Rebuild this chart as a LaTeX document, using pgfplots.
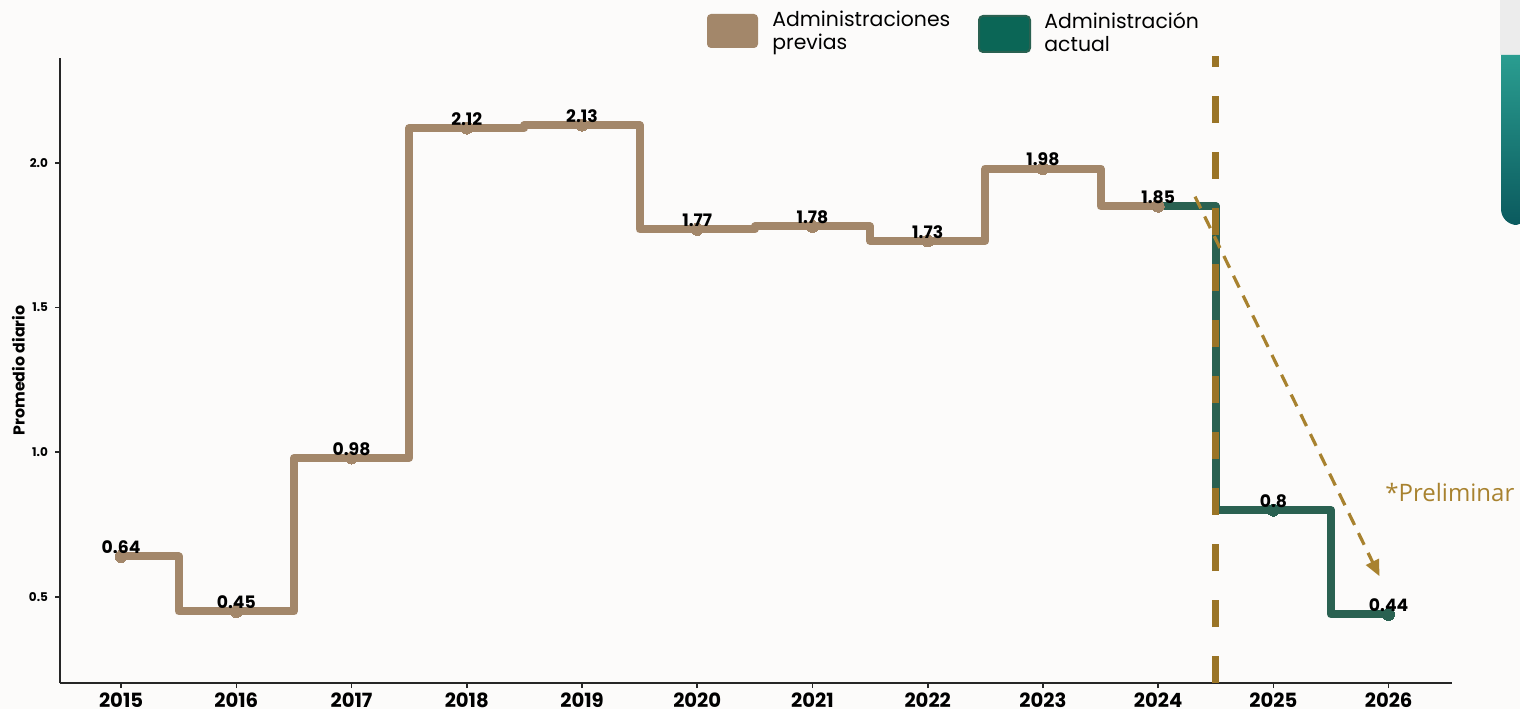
\documentclass[border=0pt]{standalone}
\usepackage{pgfplots}
\pgfplotsset{compat=1.18}
\usepackage{fontspec}
\setmainfont{Poppins}
\newfontfamily\opensans{Open Sans}
\usetikzlibrary{arrows.meta}
\definecolor{brownc}{HTML}{A3876A}
\definecolor{greenc}{HTML}{2A6151}
\definecolor{greenleg}{HTML}{0B6656}
\definecolor{gold}{HTML}{9A7426}
\definecolor{goldarrow}{HTML}{A8822F}
\definecolor{tealA}{HTML}{2A9D90}
\definecolor{tealB}{HTML}{0B5A5E}
\definecolor{bgc}{HTML}{FCFBFA}
\begin{document}
\begin{tikzpicture}
\begin{scope}[x=0.5pt,y=0.5pt]
\path[use as bounding box, fill=bgc] (0,0) rectangle (1520,709);
% UI decoration at the right edge
\fill[gray!15] (1500,654) rectangle (1520,709);
\shade[top color=tealA, bottom color=tealB] (1520,654) -- (1501,654) [rounded corners=8pt] -- (1501,484) -- (1530,484) [sharp corners] -- (1530,654) -- cycle;
% legend
\fill[brownc, rounded corners=2pt] (707,661) rectangle (758,695);
\node[anchor=north west, align=left, inner sep=0pt, font=\fontsize{10.2}{11.5}\selectfont] at (772,698) {Administraciones\\previas};
\fill[greenleg, draw=greenc, line width=1pt, rounded corners=2pt] (979,657) rectangle (1030,693);
\node[anchor=north west, align=left, inner sep=0pt, font=\fontsize{10.2}{11.5}\selectfont] at (1044,697) {Administración\\actual};
\node[anchor=west, inner sep=0pt, text=goldarrow, font=\opensans\fontsize{12}{12}\selectfont] at (1385,217) {*Preliminar};
\end{scope}
\begin{axis}[
  at={(30pt,13pt)}, anchor=south west,
  width=696pt, height=312.5pt, scale only axis,
  xmin=2014.47, xmax=2026.55, ymin=0.203, ymax=2.362,
  axis x line*=bottom, axis y line*=left,
  axis line style={line width=1pt, color=black!85, -},
  tick style={line width=0.8pt, color=black!85},
  tick align=outside, major tick length=2.5pt,
  xtick={2015,2016,2017,2018,2019,2020,2021,2022,2023,2024,2025,2026},
  xticklabels={2015,2016,2017,2018,2019,2020,2021,2022,2023,2024,2025,2026},
  xticklabel style={font=\bfseries\fontsize{9.8}{9.8}\selectfont, yshift=1pt},
  ytick={0.5,1,1.5,2},
  yticklabels={0.5,1.0,1.5,2.0},
  yticklabel style={font=\bfseries\fontsize{6}{6}\selectfont},
  ylabel={Promedio diario},
  ylabel style={font=\bfseries\fontsize{7.9}{7.9}\selectfont, at={(axis description cs:-0.030,0.5)}, anchor=center},
  clip=false,
  point meta=explicit symbolic,
  nodes near coords,
  every node near coord/.style={font=\bfseries\fontsize{8.6}{8.6}\selectfont, text=black, anchor=south, inner sep=0pt, yshift=1.2pt},
]
\addplot[greenc, line width=4pt, const plot mark mid, line join=round, line cap=round,
  mark=*, mark size=3pt, mark options={fill=greenc, draw=greenc, line width=0pt}]
  coordinates {(2024,1.85) [{}] (2025,0.8) [0.8] (2026,0.44) [0.44]};
\addplot[brownc, line width=4pt, const plot mark mid, line join=round, line cap=round,
  mark=*, mark size=3pt, mark options={fill=brownc, draw=brownc, line width=0pt}]
  coordinates {(2015,0.64) [0.64] (2016,0.45) [0.45] (2017,0.98) [0.98] (2018,2.12) [2.12]
    (2019,2.13) [2.13] (2020,1.77) [1.77] (2021,1.78) [1.78] (2022,1.73) [1.73]
    (2023,1.98) [1.98] (2024,1.85) [1.85]};
\draw[gold, line width=3.5pt, dash pattern=on 13.5pt off 14.5pt] (axis cs:2024.5,0.203) -- (axis cs:2024.5,2.369);
\draw[goldarrow, line width=1.6pt, dash pattern=on 6.5pt off 4.5pt, -{Triangle[length=8pt,width=7pt]}] (axis cs:2024.32,1.883) -- (axis cs:2025.92,0.572);
\end{axis}
\end{tikzpicture}
\end{document}
